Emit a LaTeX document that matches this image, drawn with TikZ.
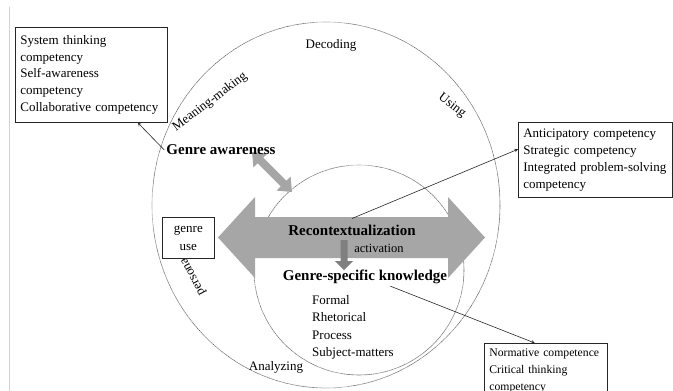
\documentclass[tikz,border=0pt]{standalone}
\usepackage{fontspec}
\setmainfont{Liberation Serif}
\usetikzlibrary{arrows,calc,positioning}

\begin{document}
\begin{tikzpicture}[
    x=1pt, y=-1pt,
    ring/.style={draw=black!80, line width=0.6pt, dash pattern=on 0.4pt off 0.6pt},
    compbox/.style={draw=black!85, line width=0.7pt, fill=white, align=left, anchor=north west,
                    inner xsep=5pt, inner ysep=2pt, font=\fontsize{13}{16.8}\selectfont},
    lbl/.style={font=\fontsize{13}{15}\selectfont, inner sep=1pt},
    key/.style={font=\fontsize{15}{17}\selectfont\bfseries, inner sep=2pt},
    fat/.style={fill=gray!70},
    conn/.style={->, >=stealth, black!85, line width=0.6pt}
]
    \useasboundingbox (0,0) rectangle (673,391);
    \clip (0,0) rectangle (673,391);

    % page edge
    \draw[gray!35, line width=0.8pt] (9,7) -- (9,391);

    % the two circles
    \draw[ring] (326,205) ellipse [x radius=174pt, y radius=183pt];
    \draw[ring] (359,270) circle [radius=105pt];

    % fat arrows
    \fill[fat] (218,237.5) -- (255,197) -- (255,217) -- (448,217) -- (448,197) -- (485,237.5)
               -- (448,278) -- (448,258) -- (255,258) -- (255,278) -- cycle;
    \begin{scope}[shift={(252,152)}, rotate=-45]
        \fill[fat] (0,0) -- (12,10) -- (12,4) -- (44.6,4) -- (44.6,10) -- (56.6,0)
                   -- (44.6,-10) -- (44.6,-4) -- (12,-4) -- (12,-10) -- cycle;
    \end{scope}
    \fill[gray] (340.5,240) -- (347.5,240) -- (347.5,261) -- (353,261) -- (344,270)
                -- (335,261) -- (340.5,261) -- cycle;

    % ring labels
    \node[lbl]             (dec)  at (331,45)  {Decoding};
    \node[lbl, rotate=37]  (mean) at (210,102) {Meaning-making};
    \node[lbl, rotate=-38] (use)  at (452,106) {Using};
    \node[lbl, rotate=118] (pers) at (194,276) {persona};
    \node[lbl]             (ana)  at (276,367) {Analyzing};

    % inside
    \node[key] (aware) at (221,150) {Genre awareness};
    \node[key] (recon) at (352,230) {Recontextualization};
    \node[lbl, font=\fontsize{12.5}{14}\selectfont] (act) at (379,248) {activation};
    \node[key] (gsk)   at (365,277) {Genre-specific knowledge};
    \node[lbl, align=left, anchor=north west, font=\fontsize{13}{17.5}\selectfont]
        (kinds) at (311,294) {Formal\\Rhetorical\\Process\\Subject-matters};

    % competency boxes
    \node[compbox, text width=142pt, minimum height=95pt] (sys) at (15,27)
        {System thinking\\competency\\Self-awareness\\competency\\Collaborative competency};
    \node[compbox, text width=144pt, minimum height=75pt, font=\fontsize{13}{17}\selectfont] (ant) at (518,122)
        {Anticipatory competency\\Strategic competency\\Integrated problem-solving\\competency};
    \node[compbox, text width=113pt, minimum height=56pt, font=\fontsize{11.7}{17}\selectfont] (norm) at (484,343)
        {Normative competence\\Critical thinking\\competency};
    \node[compbox, align=center, inner sep=0pt, minimum width=52pt, minimum height=41pt,
          font=\fontsize{13}{18}\selectfont] (guse) at (162,217) {genre\\use};

    % links to the boxes
    \draw[conn] (aware.west) -- (sys);
    \draw[conn] ([yshift=4pt]recon.north) -- ($(ant.north west)!0.36!(ant.south west)$);
    \draw[conn] ($(gsk.south west)!0.65!(gsk.south east)$) -- ($(norm.north west)!0.41!(norm.north east)$);

\end{tikzpicture}
\end{document}
